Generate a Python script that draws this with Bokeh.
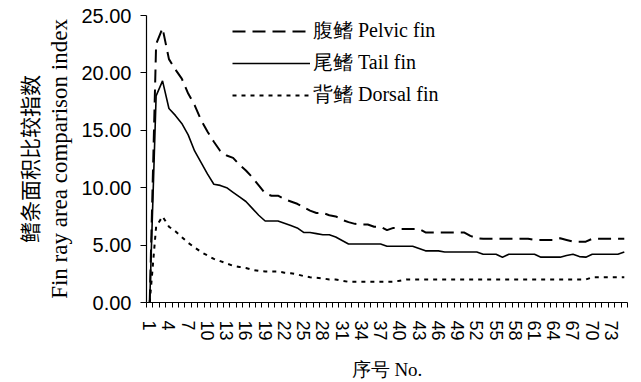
from bokeh.plotting import figure
from bokeh.models import (Range1d, FixedTicker, NumeralTickFormatter, Legend, LegendItem,
                          Title, ColumnDataSource)
from bokeh.embed import file_html
from bokeh.resources import INLINE

# ---- data ----
categories = list(range(1, 76))
pelvic = [0, 22.5, 23.9, 21.2, 20.3, 19.5, 18.2, 17.2, 15.9, 14.9,
          14.0, 13.2, 12.8, 12.6, 12.0, 11.5, 10.9, 10.2, 9.5, 9.3,
          9.3, 9.0, 8.8, 8.6, 8.3, 8.0, 7.8, 7.8, 7.6, 7.5,
          7.2, 7.0, 6.85, 6.8, 6.8, 6.6, 6.6, 6.3, 6.5, 6.4,
          6.4, 6.4, 6.4, 6.1, 6.1, 6.1, 6.1, 6.1, 6.1, 6.1,
          5.8, 5.6, 5.55, 5.55, 5.55, 5.55, 5.55, 5.55, 5.55, 5.55,
          5.45, 5.45, 5.45, 5.45, 5.6, 5.45, 5.3, 5.3, 5.3, 5.55,
          5.55, 5.55, 5.55, 5.55, 5.55]
tail = [0, 18.0, 19.3, 16.9, 16.3, 15.6, 14.6, 13.2, 12.2, 11.2,
        10.3, 10.2, 10.0, 9.6, 9.2, 8.8, 8.2, 7.6, 7.1, 7.1,
        7.1, 6.9, 6.7, 6.5, 6.1, 6.1, 6.0, 5.9, 5.9, 5.7,
        5.4, 5.1, 5.1, 5.1, 5.1, 5.1, 5.1, 4.9, 4.9, 4.9,
        4.9, 4.9, 4.7, 4.5, 4.5, 4.5, 4.4, 4.4, 4.4, 4.4,
        4.4, 4.4, 4.2, 4.2, 4.2, 3.95, 4.2, 4.2, 4.2, 4.2,
        4.2, 3.95, 3.95, 3.95, 3.95, 4.1, 4.2, 4.0, 3.95, 4.2,
        4.2, 4.2, 4.2, 4.2, 4.4]
dorsal = [0, 6.6, 7.5, 6.6, 6.2, 5.7, 5.2, 4.8, 4.4, 4.1,
          3.8, 3.6, 3.4, 3.2, 3.1, 3.0, 2.85, 2.75, 2.7, 2.7,
          2.7, 2.6, 2.55, 2.45, 2.3, 2.2, 2.15, 2.1, 2.0, 2.0,
          1.9, 1.8, 1.8, 1.8, 1.8, 1.8, 1.8, 1.8, 1.8, 1.9,
          2.0, 2.0, 2.0, 2.0, 2.0, 2.0, 2.0, 2.0, 2.0, 2.0,
          2.0, 2.0, 2.0, 2.0, 2.0, 2.0, 2.0, 2.0, 2.0, 2.0,
          2.0, 2.0, 2.0, 2.0, 2.0, 2.0, 2.0, 2.0, 2.0, 2.2,
          2.2, 2.2, 2.2, 2.2, 2.2]
x_tick_labels = [1, 4, 7, 10, 13, 16, 19, 22, 25, 28, 31, 34, 37, 40, 43, 46,
                 49, 52, 55, 58, 61, 64, 67, 70, 73]
y_ticks = [0, 5, 10, 15, 20, 25]
series_names = ["腹鳍 Pelvic fin", "尾鳍 Tail fin", "背鳍 Dorsal fin"]
y_title_cn = "鳍条面积比较指数"
y_title_en = "Fin ray area comparison index"
x_title = "序号 No."

p = figure(frame_width=481, frame_height=287,
           min_border_left=146, min_border_top=15, min_border_right=14, min_border_bottom=80,
           output_backend="svg", toolbar_location=None,
           x_range=Range1d(0.5, len(categories) + 0.5), y_range=Range1d(0, 25))
p.outline_line_color = None
p.xgrid.visible = False
p.ygrid.visible = False
p.background_fill_color = "white"

src = ColumnDataSource(dict(x=categories, pelvic=pelvic, tail=tail, dorsal=dorsal))
r1 = p.line("x", "pelvic", source=src, line_color="black", line_width=2, line_dash="13 7")
r2 = p.line("x", "tail", source=src, line_color="black", line_width=1.6)
r3 = p.line("x", "dorsal", source=src, line_color="black", line_width=2, line_dash="4 5")

# x axis
xa = p.xaxis[0]
xa.ticker = FixedTicker(ticks=x_tick_labels,
                        minor_ticks=[c - 0.5 for c in categories] + [categories[-1] + 0.5])
xa.major_tick_out = 0
xa.major_tick_in = 0
xa.minor_tick_out = 5
xa.minor_tick_in = 0
xa.minor_tick_line_color = "black"
xa.axis_line_color = "black"
xa.axis_line_width = 1.2
xa.major_label_orientation = "vertical"
xa.major_label_standoff = 13
xa.major_label_text_font = "Liberation Sans"
xa.major_label_text_font_size = "18px"
xa.major_label_text_color = "black"
xa.axis_label = x_title
xa.axis_label_standoff = 15
xa.axis_label_text_font = "Liberation Serif"
xa.axis_label_text_font_style = "normal"
xa.axis_label_text_font_size = "19px"
xa.axis_label_text_color = "black"

# y axis
ya = p.yaxis[0]
ya.ticker = FixedTicker(ticks=y_ticks)
ya.formatter = NumeralTickFormatter(format="0.00")
ya.major_tick_out = 6
ya.major_tick_in = 0
ya.minor_tick_line_color = None
ya.axis_line_color = "black"
ya.axis_line_width = 1.2
ya.major_label_standoff = 9
ya.major_label_text_font = "Liberation Sans"
ya.major_label_text_font_size = "20px"
ya.major_label_text_color = "black"
ya.axis_label = y_title_en
ya.axis_label_standoff = 6
ya.axis_label_text_font = "Liberation Serif"
ya.axis_label_text_font_style = "normal"
ya.axis_label_text_font_size = "23px"
ya.axis_label_text_color = "black"

p.add_layout(Title(text=y_title_cn, align="center", text_font="Noto Sans CJK SC",
                   text_font_size="21px", text_font_style="normal", text_color="black",
                   standoff=2), "left")

legend = Legend(items=[LegendItem(label=series_names[0], renderers=[r1]),
                       LegendItem(label=series_names[1], renderers=[r2]),
                       LegendItem(label=series_names[2], renderers=[r3])],
                location=(86, 194), orientation="vertical",
                glyph_width=78, glyph_height=24, label_height=24, spacing=5,
                label_standoff=3, padding=0, margin=0,
                border_line_color=None, background_fill_alpha=0,
                label_text_font="Liberation Serif", label_text_font_size="20px",
                label_text_color="black")
p.add_layout(legend)

open("out.html", "w").write(file_html(p, INLINE))
